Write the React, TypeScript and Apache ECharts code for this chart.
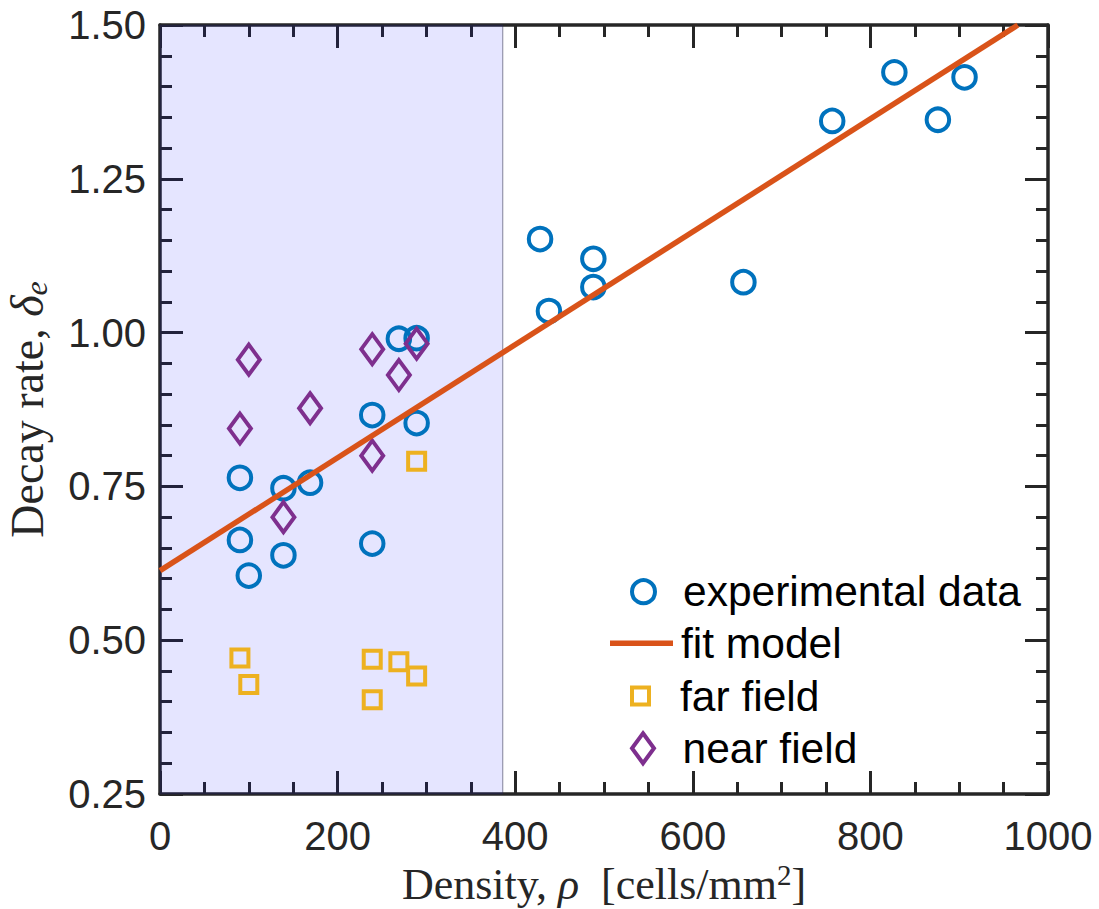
import React, { useEffect, useRef } from "react";
import * as echarts from "echarts";

// ---- data ----
const expX = [90, 90, 100, 139, 139, 169, 239, 239, 269, 289, 289, 428, 438, 488, 488, 657, 757, 827, 876, 906];
const expY = [0.764, 0.663, 0.605, 0.747, 0.638, 0.756, 0.866, 0.657, 0.99, 0.991, 0.853, 1.152, 1.035, 1.12, 1.074, 1.082, 1.344, 1.423, 1.346, 1.415];
const fitX = [0, 966];
const fitY = [0.613, 1.5];
const farX = [90, 100, 239, 239, 269, 289, 289];
const farY = [0.471, 0.428, 0.469, 0.403, 0.465, 0.442, 0.791];
const nearX = [90, 100, 139, 169, 239, 239, 269, 289];
const nearY = [0.844, 0.956, 0.7, 0.877, 0.973, 0.8, 0.931, 0.982];
const regionX = [0, 386];
const xTicks = [0, 1000, 200];
const yTicks = [0.25, 1.5, 0.25];
const legendNames = ["experimental data", "fit model", "far field", "near field"];

const zip = (xs: number[], ys: number[]) => xs.map((x, i) => [x, ys[i]]);

const AX = "#262626";
const SANS = "'Liberation Sans', Arial, Helvetica, sans-serif";
const SERIF = "'Liberation Serif', 'Times New Roman', serif";
const SQUARE = "path://M0,0L1,0L1,1L0,1Z";
const DIAMOND = "path://M0,-15L11,0L0,15L-11,0Z";

const C_EXP = "#0072BD";
const C_FIT = "#D95319";
const C_FAR = "#EDB120";
const C_NEAR = "#7E2F8E";

function baseAxis(extra: any) {
  return {
    type: "value",
    splitLine: { show: false },
    minorSplitLine: { show: false },
    axisLine: { show: true, onZero: false, lineStyle: { color: AX, width: 3.5 } },
    axisTick: { show: true, inside: true, length: 23, lineStyle: { color: AX, width: 3 } },
    ...extra,
  };
}

export default function App() {
  const ref = useRef<HTMLDivElement>(null);
  useEffect(() => {
    if (!ref.current) return;
    const chart = echarts.init(ref.current, undefined, { renderer: "svg" });
    const xRich = {
      a: { fontFamily: SERIF, fontSize: 44, color: AX, lineHeight: 48 },
      i: { fontFamily: SERIF, fontSize: 44, fontStyle: "italic", color: AX, lineHeight: 48 },
      s: { fontFamily: SERIF, fontSize: 29, color: AX, lineHeight: 32, verticalAlign: "top" },
    };
    const yRich = {
      a: { fontFamily: SERIF, fontSize: 46, color: AX, lineHeight: 50 },
      i: { fontFamily: SERIF, fontSize: 46, fontStyle: "italic", color: AX, lineHeight: 50 },
      b: { fontFamily: SERIF, fontSize: 32, fontStyle: "italic", color: AX, lineHeight: 29, verticalAlign: "bottom" },
    };
    const legendCommon = {
      orient: "vertical",
      padding: 0,
      itemWidth: 63,
      selectedMode: false,
      textStyle: { fontFamily: SANS, fontSize: 42.5, color: "#000", lineHeight: 46, padding: [0, 0, 0, 3] },
    };
    const option: any = {
      animation: false,
      backgroundColor: "#fff",
      grid: { left: 160, right: 51, top: 25, bottom: 115, containLabel: false, outerBoundsMode: "none" },
      xAxis: [
        baseAxis({
          position: "bottom",
          min: xTicks[0],
          max: xTicks[1],
          interval: xTicks[2],
          minorTick: { show: true, splitNumber: 4, length: 12, lineStyle: { color: AX, width: 3 } },
          axisLabel: { fontFamily: SANS, fontSize: 40, color: AX, margin: 22, formatter: (v: number) => String(v) },
          name: "{a|Density, }{i|ρ}{a|  [cells/mm}{s|2}{a|]}",
          nameLocation: "middle",
          nameGap: 63,
          nameTextStyle: { rich: xRich },
        }),
        baseAxis({
          position: "top",
          min: xTicks[0],
          max: xTicks[1],
          interval: xTicks[2],
          minorTick: { show: true, splitNumber: 4, length: 12, lineStyle: { color: AX, width: 3 } },
          axisLabel: { show: false },
        }),
      ],
      yAxis: [
        baseAxis({
          position: "left",
          min: yTicks[0],
          max: yTicks[1],
          interval: yTicks[2],
          minorTick: { show: true, splitNumber: 5, length: 12, lineStyle: { color: AX, width: 3 } },
          axisLabel: { fontFamily: SANS, fontSize: 40, color: AX, margin: 14, formatter: (v: number) => v.toFixed(2) },
          name: "{a|Decay rate, }{i|δ}{b|e}",
          nameLocation: "middle",
          nameGap: 108,
          nameTextStyle: { rich: yRich },
        }),
        baseAxis({
          position: "right",
          min: yTicks[0],
          max: yTicks[1],
          interval: yTicks[2],
          minorTick: { show: true, splitNumber: 5, length: 12, lineStyle: { color: AX, width: 3 } },
          axisLabel: { show: false },
        }),
      ],
      legend: [
        {
          ...legendCommon,
          left: 630,
          top: 568.7,
          itemHeight: 23,
          data: [{ name: legendNames[0], icon: "circle" }],
          itemStyle: { color: "transparent", borderColor: C_EXP, borderWidth: 4 },
        },
        {
          ...legendCommon,
          left: 610,
          top: 620.3,
          itemHeight: 5.5,
          data: [{ name: legendNames[1], icon: "rect" }],
          itemStyle: { color: C_FIT, borderWidth: 0 },
        },
        {
          ...legendCommon,
          left: 630,
          top: 673,
          itemHeight: 17,
          data: [{ name: legendNames[2], icon: SQUARE }],
          itemStyle: { color: "transparent", borderColor: C_FAR, borderWidth: 4 },
        },
        {
          ...legendCommon,
          left: 630,
          top: 725.3,
          itemHeight: 30,
          data: [{ name: legendNames[3], icon: DIAMOND }],
          itemStyle: { color: "transparent", borderColor: C_NEAR, borderWidth: 4 },
        },
      ],
      series: [
        {
          name: legendNames[0],
          type: "scatter",
          data: zip(expX, expY),
          symbol: "circle",
          symbolSize: 22.5,
          itemStyle: { color: "transparent", borderColor: C_EXP, borderWidth: 4, opacity: 1 },
          emphasis: { disabled: true },
        },
        {
          name: legendNames[1],
          type: "line",
          data: zip(fitX, fitY),
          symbol: "none",
          lineStyle: { color: C_FIT, width: 5.5 },
          itemStyle: { color: C_FIT },
          emphasis: { disabled: true },
        },
        {
          name: legendNames[2],
          type: "scatter",
          data: zip(farX, farY),
          symbol: SQUARE,
          symbolSize: 17,
          itemStyle: { color: "transparent", borderColor: C_FAR, borderWidth: 4, opacity: 1 },
          emphasis: { disabled: true },
        },
        {
          name: legendNames[3],
          type: "scatter",
          data: zip(nearX, nearY),
          symbol: DIAMOND,
          symbolSize: [22, 30],
          itemStyle: { color: "transparent", borderColor: C_NEAR, borderWidth: 4, opacity: 1 },
          emphasis: { disabled: true },
        },
        {
          name: "region",
          type: "line",
          data: [],
          z: 10,
          silent: true,
          markArea: {
            silent: true,
            label: { show: false },
            itemStyle: { color: "rgba(0,0,255,0.1)", borderColor: "rgba(40,40,70,0.55)", borderWidth: 1 },
            data: [[{ xAxis: regionX[0], yAxis: yTicks[0] }, { xAxis: regionX[1], yAxis: yTicks[1] }]],
          },
        },
      ],
    };
    chart.setOption(option);
    return () => chart.dispose();
  }, []);
  return (
    <div
      ref={ref}
      style={{ position: "fixed", left: 0, top: 0, width: 1099, height: 909, background: "#fff" }}
    />
  );
}
